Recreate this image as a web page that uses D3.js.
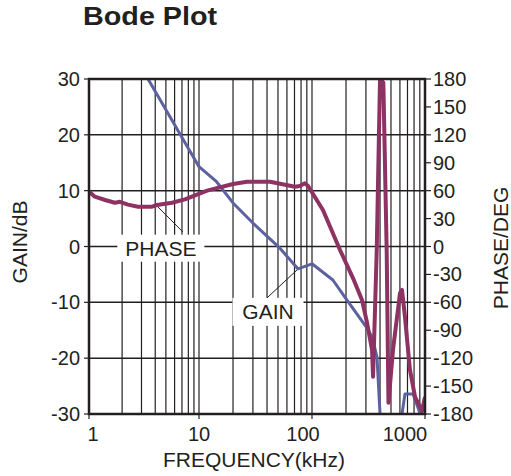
<!DOCTYPE html>
<html>
<head>
<meta charset="utf-8">
<script src="https://cdn.jsdelivr.net/npm/d3@7"></script>
<style>
	body { margin: 0; background: #fff; }
	text { font-family: "Liberation Sans", Arial, sans-serif; fill: #231f20; }
</style>
</head>
<body>
<svg id="chart" width="511" height="476"></svg>
<script>
// values (kHz, dB, degrees)
const gainFreq = [3.44, 10, 14.3, 20, 30, 52, 75, 100, 153, 204, 307, 340, 376, 400, 425, 601, 626, 665, 783, 868, 922, 1000];
const gainDb = [30, 14.3, 11.6, 7.8, 4.2, -0.3, -4.0, -3.1, -6.0, -9.6, -14.6, -16.2, -19.8, -30, -34, -33, -30, -26.4, -26.4, -28.9, -30.5, -27.1];

const phaseFreq = [1, 1.13, 1.4, 1.72, 1.91, 2.26, 2.79, 3.74, 4.15, 5.68, 7.45, 11.8, 20, 26.6, 42.5, 70.7, 78, 86.5, 92, 125, 177, 231, 277, 307, 340, 347, 374, 400, 428, 458, 475, 521, 601, 626, 665, 736, 816, 904, 941, 1000];
const phaseDeg = [59, 53.5, 50, 47, 48, 45, 42.8, 42.8, 44.6, 47, 50.7, 60, 67.1, 69.6, 69.6, 64.2, 64.9, 67.9, 65.3, 39.2, -3.8, -34.2, -57.5, -82, -111, -140, -3.8, 181, 176, -3.8, -168, -111, -50, -46.6, -75.7, -132.7, -161.7, -172.5, -176.7, -161.7];

const freqTicks = [1, 10, 100, 1000];
const gainTicks = [30, 20, 10, 0, -10, -20, -30];
const phaseTicks = [180, 150, 120, 90, 60, 30, 0, -30, -60, -90, -120, -150, -180];

// layout
const plotLeft = 89, plotRight = 425, plotTop = 79, plotBottom = 414;
const xLabelNudge = [4, 0, -9, -20];
const gainColor = '#5c62a0';
const phaseColor = '#8e3163';
const ink = '#231f20';

const svg = d3.select('#chart');

const x = d3.scaleLog().domain([1, 10, 1000]).range([plotLeft, 199, plotRight]);
const yGain = d3.scaleLinear().domain([-30, 30]).range([plotBottom, plotTop]);
const yPhase = d3.scaleLinear().domain([-180, 180]).range([plotBottom, plotTop]);

svg.append('defs').append('clipPath').attr('id', 'plot')
	.append('rect')
	.attr('x', plotLeft).attr('y', plotTop)
	.attr('width', plotRight - plotLeft).attr('height', plotBottom - plotTop);

// title
svg.append('text')
	.attr('transform', 'translate(83,25) scale(1.15,1)')
	.attr('font-size', 25)
	.attr('font-weight', 'bold')
	.text('Bode Plot');

// grid
const grid = svg.append('g');
grid.selectAll('line.v')
	.data(x.ticks())
	.join('line')
	.attr('class', 'v')
	.attr('x1', (d) => x(d)).attr('x2', (d) => x(d))
	.attr('y1', plotTop).attr('y2', plotBottom)
	.attr('stroke', ink).attr('stroke-width', 1.2);

grid.selectAll('line.h')
	.data(gainTicks)
	.join('line')
	.attr('class', 'h')
	.attr('x1', plotLeft).attr('x2', plotRight)
	.attr('y1', (d) => yGain(d)).attr('y2', (d) => yGain(d))
	.attr('stroke', ink).attr('stroke-width', 1.5);

// label boxes knock the grid out
const boxes = [
	{ text: 'PHASE', f: 4.5, g: -0.3, w: 87, h: 27 },
	{ text: 'GAIN', f: 40.8, g: -11.7, w: 71, h: 28 }
];
const labels = svg.append('g');
labels.selectAll('rect')
	.data(boxes)
	.join('rect')
	.attr('x', (d) => x(d.f) - d.w / 2)
	.attr('y', (d) => yGain(d.g) - d.h / 2)
	.attr('width', (d) => d.w)
	.attr('height', (d) => d.h)
	.attr('fill', '#fff');
labels.selectAll('text')
	.data(boxes)
	.join('text')
	.attr('x', (d) => x(d.f))
	.attr('y', (d) => yGain(d.g) + 7.5)
	.attr('text-anchor', 'middle')
	.attr('font-size', 21)
	.text((d) => d.text);

// leader lines
svg.append('line')
	.attr('x1', x(4.15)).attr('y1', yPhase(43.5))
	.attr('x2', x(7.14)).attr('y2', yGain(2.6))
	.attr('stroke', ink).attr('stroke-width', 1);
svg.append('line')
	.attr('x1', x(78.3)).attr('y1', yGain(-3.7))
	.attr('x2', x(40)).attr('y2', yGain(-9.2))
	.attr('stroke', ink).attr('stroke-width', 1);

// curves
const curves = svg.append('g').attr('clip-path', 'url(#plot)');
const gainLine = d3.line()
	.x((d, i) => x(gainFreq[i]))
	.y((d) => yGain(d));
const phaseLine = d3.line()
	.x((d, i) => x(phaseFreq[i]))
	.y((d) => yPhase(d));

curves.append('path')
	.attr('d', gainLine(gainDb))
	.attr('fill', 'none')
	.attr('stroke', gainColor)
	.attr('stroke-width', 3)
	.attr('stroke-linejoin', 'round');
curves.append('path')
	.attr('d', phaseLine(phaseDeg))
	.attr('fill', 'none')
	.attr('stroke', phaseColor)
	.attr('stroke-width', 4)
	.attr('stroke-linejoin', 'round');

// frame
svg.append('rect')
	.attr('x', plotLeft).attr('y', plotTop)
	.attr('width', plotRight - plotLeft).attr('height', plotBottom - plotTop)
	.attr('fill', 'none')
	.attr('stroke', ink).attr('stroke-width', 2.5);

// left axis
const leftAxis = svg.append('g');
leftAxis.selectAll('line')
	.data(gainTicks)
	.join('line')
	.attr('x1', plotLeft - 5).attr('x2', plotLeft)
	.attr('y1', (d) => yGain(d)).attr('y2', (d) => yGain(d))
	.attr('stroke', ink).attr('stroke-width', 1.2);
leftAxis.selectAll('text')
	.data(gainTicks)
	.join('text')
	.attr('x', plotLeft - 9)
	.attr('y', (d) => yGain(d) + 7)
	.attr('text-anchor', 'end')
	.attr('font-size', 20)
	.text((d) => d);

// right axis
const rightAxis = svg.append('g');
rightAxis.selectAll('line')
	.data(phaseTicks)
	.join('line')
	.attr('x1', plotRight).attr('x2', plotRight + 6)
	.attr('y1', (d) => yPhase(d)).attr('y2', (d) => yPhase(d))
	.attr('stroke', ink).attr('stroke-width', 1.2);
rightAxis.selectAll('text')
	.data(phaseTicks)
	.join('text')
	.attr('x', plotRight + 8)
	.attr('y', (d) => yPhase(d) + 7)
	.attr('font-size', 20)
	.text((d) => d);

// bottom axis
const bottomAxis = svg.append('g');
bottomAxis.selectAll('line')
	.data(freqTicks)
	.join('line')
	.attr('x1', (d) => x(d)).attr('x2', (d) => x(d))
	.attr('y1', plotBottom).attr('y2', plotBottom + 5)
	.attr('stroke', ink).attr('stroke-width', 1.2);
bottomAxis.selectAll('text')
	.data(freqTicks)
	.join('text')
	.attr('x', (d, i) => x(d) + xLabelNudge[i])
	.attr('y', 441)
	.attr('text-anchor', 'middle')
	.attr('font-size', 20)
	.text((d) => d);

// axis titles
svg.append('text')
	.attr('transform', 'translate(27,242) rotate(-90)')
	.attr('text-anchor', 'middle')
	.attr('font-size', 21)
	.text('GAIN/dB');
svg.append('text')
	.attr('transform', 'translate(508,248) rotate(-90)')
	.attr('text-anchor', 'middle')
	.attr('font-size', 21)
	.text('PHASE/DEG');
svg.append('text')
	.attr('x', 254)
	.attr('y', 467)
	.attr('text-anchor', 'middle')
	.attr('font-size', 21)
	.text('FREQUENCY(kHz)');
</script>
</body>
</html>
